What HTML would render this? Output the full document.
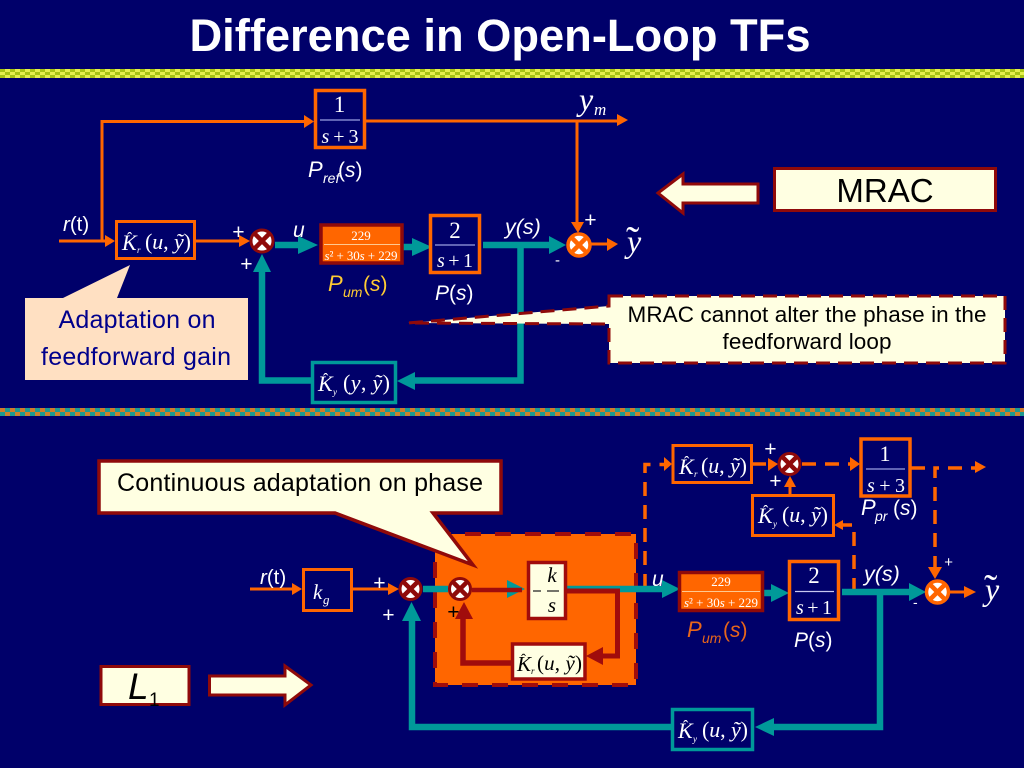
<!DOCTYPE html>
<html><head><meta charset="utf-8"><style>
html,body{margin:0;padding:0;background:#00006a}
svg{display:block}
text{font-family:"Liberation Sans",sans-serif;fill:#fff}
.m{font-family:"Liberation Serif",serif}
.i{font-style:italic}
.n{font-style:normal}
</style></head><body>
<svg width="1024" height="768" viewBox="0 0 1024 768" xmlns="http://www.w3.org/2000/svg">
<defs>
<pattern id="b1" width="10" height="9" patternUnits="userSpaceOnUse" y="69"><rect width="10" height="9" fill="#e4f04c"/><rect x="0" y="0" width="5" height="3" fill="#a6c414"/><rect x="5" y="3" width="5" height="3" fill="#a6c414"/><rect x="0" y="6" width="5" height="3" fill="#a6c414"/></pattern>
<pattern id="b2" width="10" height="8" patternUnits="userSpaceOnUse" y="408"><rect width="10" height="8" fill="#1d9a90"/><rect x="0" y="0" width="5" height="4" fill="#d07a2a"/><rect x="5" y="4" width="5" height="4" fill="#c9822e"/></pattern>
</defs>
<rect width="1024" height="768" fill="#00006a"/>
<text x="500" y="51" font-size="45" font-weight="bold" text-anchor="middle" textLength="621" lengthAdjust="spacingAndGlyphs">Difference in Open-Loop TFs</text>
<rect x="0" y="69" width="1024" height="9" fill="url(#b1)"/>
<rect x="0" y="408" width="1024" height="8" fill="url(#b2)"/>

<!-- TOP: orange wires -->
<g stroke="#ff6600" stroke-width="3" fill="none">
<path d="M59 241H112M102 241V121.500H306"/>
<path d="M365 121H620"/>
<path d="M577 121V226"/>
<path d="M195 241H240"/>
<path d="M591 244H610"/>
</g>
<g fill="#ff6600">
<polygon points="115,241 105,235 105,247"/>
<polygon points="314,121.500 304,115 304,128"/>
<polygon points="628,120 617,114 617,126"/>
<polygon points="578,233 571,222 584,222"/>
<polygon points="250,241 239,235 239,247"/>
<polygon points="618,244 607,238 607,251"/>
</g>
<!-- TOP: teal wires -->
<g stroke="#009999" stroke-width="6.500" fill="none">
<path d="M275 245H300"/>
<path d="M403 247H416"/>
<path d="M483 245H550"/>
<path d="M520.500 245V380.500H412"/>
<path d="M312 380.500H262V270"/>
</g>
<g fill="#009999">
<polygon points="318,245 298,236 298,254"/>
<polygon points="432,247 412,238 412,256"/>
<polygon points="566,245 549,236 549,254"/>
<polygon points="397,381 415,372 415,390"/>
<polygon points="262,254 253,272 271,272"/>
</g>
<!-- TOP boxes -->
<rect x="315.500" y="90.500" width="49" height="57" fill="#00006a" stroke="#ff6600" stroke-width="3.500"/>
<text class="m" x="339.500" y="112" font-size="23" text-anchor="middle">1</text>
<path d="M320 120H360" stroke="#9aa0e0" stroke-width="1.200"/>
<text class="m" x="340" y="143" font-size="20" text-anchor="middle" textLength="37"><tspan class="i">s</tspan> + 3</text>

<rect x="116.500" y="221.500" width="78" height="37" fill="#00006a" stroke="#ff6600" stroke-width="3"/>
<text class="m i" x="122" y="250" font-size="22">K</text><text class="m" x="127" y="243" font-size="16">ˆ</text>
<text class="m i" x="137" y="253" font-size="9">r</text>
<text class="m" x="145" y="249" font-size="22" textLength="46">(<tspan class="i">u</tspan>, <tspan class="i">ỹ</tspan>)</text>

<rect x="321" y="225" width="81" height="38" fill="#ff6600" stroke="#8f0a0a" stroke-width="3.500"/>
<text class="m" x="361" y="240" font-size="13" text-anchor="middle">229</text>
<path d="M324 244.500H400" stroke="#ffc890" stroke-width="1"/>
<text class="m" x="361" y="260" font-size="13" text-anchor="middle" textLength="73"><tspan class="i">s</tspan>² + 30<tspan class="i">s</tspan> + 229</text>

<rect x="430.500" y="215.500" width="49" height="57" fill="#00006a" stroke="#ff6600" stroke-width="3.500"/>
<text class="m" x="455" y="238" font-size="23" text-anchor="middle">2</text>
<path d="M435 245H475" stroke="#9aa0e0" stroke-width="1.200"/>
<text class="m" x="455" y="267" font-size="20" text-anchor="middle" textLength="36"><tspan class="i">s</tspan> + 1</text>

<rect x="312.500" y="362.500" width="83" height="40" fill="#00006a" stroke="#009999" stroke-width="3.500"/>
<text class="m i" x="318" y="391" font-size="22">K</text><text class="m" x="323" y="384" font-size="16">ˆ</text>
<text class="m i" x="333" y="395" font-size="9">y</text>
<text class="m" x="343" y="390" font-size="22" textLength="47">(<tspan class="i">y</tspan>, <tspan class="i">ỹ</tspan>)</text>

<!-- TOP sums -->
<g>
<circle cx="262" cy="241" r="11" fill="#fff" stroke="#8f0a0a" stroke-width="3"/>
<path d="M254 233L270 249M270 233L254 249" stroke="#8f0a0a" stroke-width="4.500"/>
</g>
<g>
<circle cx="579" cy="245" r="11" fill="#fff" stroke="#ff6600" stroke-width="3.500"/>
<path d="M571 237L587 253M587 237L571 253" stroke="#ff6600" stroke-width="4.500"/>
</g>

<!-- TOP labels -->
<text x="308" y="177" font-size="22" class="i">P</text><text x="323" y="183" font-size="14" class="i">ref</text><text x="338" y="177" font-size="21">(<tspan class="i">s</tspan>)</text>
<text x="63" y="231" font-size="20.500"><tspan class="i">r</tspan>(t)</text>
<text x="232" y="239" font-size="21" class="i">+</text>
<text x="240" y="271" font-size="21" class="i">+</text>
<text x="293" y="237" font-size="21" class="i">u</text>
<text x="328" y="291" font-size="22" class="i" style="fill:#ffcc33">P</text><text x="343" y="297" font-size="14" class="i" style="fill:#ffcc33">um</text><text x="363" y="291" font-size="21" style="fill:#ffcc33">(<tspan class="i">s</tspan>)</text>
<text x="435" y="300" font-size="21" class="i">P<tspan class="n">(</tspan>s<tspan class="n">)</tspan></text>
<text x="505" y="234" font-size="21.500" class="i">y(s)</text>
<text x="584" y="227" font-size="21" class="i">+</text>
<text x="555" y="265" font-size="15">-</text>
<text class="m i" x="579" y="110" font-size="32">y</text>
<text class="m i" x="594" y="115" font-size="17">m</text>
<text class="m i" x="627" y="252" font-size="32">y</text>
<text class="m" x="626" y="254" font-size="40">˜</text>

<!-- TOP callouts -->
<polygon points="25,298 63,298 130,265 117,298 248,298 248,380 25,380" fill="#ffe0c2"/>
<text x="137" y="328" font-size="25" text-anchor="middle" textLength="157" style="fill:#00008c">Adaptation on</text>
<text x="136" y="365" font-size="25" text-anchor="middle" textLength="190" style="fill:#00008c">feedforward gain</text>

<rect x="774.500" y="168.500" width="221" height="42" fill="#ffffe2" stroke="#8f0a0a" stroke-width="3"/>
<text x="885" y="202" font-size="33" text-anchor="middle" style="fill:#000">MRAC</text>
<polygon points="658,193 683,174 683,184 758,184 758,203 683,203 683,213" fill="#ffffe2" stroke="#8f0a0a" stroke-width="3"/>

<polygon points="609,296 1005,296 1005,363 609,363 609,324 408,323 609,306" fill="#ffffe2" stroke="#8f0a0a" stroke-width="3" stroke-dasharray="14 8"/>
<text x="807" y="322" font-size="22.500" text-anchor="middle" textLength="359" style="fill:#000">MRAC cannot alter the phase in the</text>
<text x="807" y="349" font-size="22.500" text-anchor="middle" textLength="169" style="fill:#000">feedforward loop</text>

<!-- BOTTOM: orange block -->
<rect x="435" y="534" width="201" height="151" fill="#ff6600" stroke="#a00c0c" stroke-width="4" stroke-dasharray="16 14"/>

<!-- callout -->
<polygon points="99,461 501,461 501,513 433,513 473,565 335,513 99,513" fill="#ffffe2" stroke="#8f0a0a" stroke-width="3.500"/>
<text x="300" y="491" font-size="25" text-anchor="middle" textLength="366" style="fill:#000">Continuous adaptation on phase</text>

<!-- BOTTOM orange wires -->
<g stroke="#ff6600" stroke-width="3" fill="none">
<path d="M250 589H293"/>
<path d="M352 589H390"/>
<path d="M950 592H968"/>
<path d="M790 495V484"/>
</g>
<g fill="#ff6600">
<polygon points="302,589 292,583 292,595"/>
<polygon points="399,589 388,583 388,595"/>
<polygon points="976,592 964,586 964,598"/>
<polygon points="790,476 784,487 796,487"/>
<polygon points="935,579 928,567 942,567"/>
<polygon points="672,464 664,457 664,471"/>
<polygon points="778,464 768,458 768,471"/>
<polygon points="860,464 850,457 850,471"/>
<polygon points="986,467 975,461 975,473"/>
<polygon points="834,525 843,520 843,530"/>
</g>
<g stroke="#ff6600" stroke-width="3.500" fill="none" stroke-dasharray="14 9">
<path d="M645 588V464.500H665"/>
<path d="M752 464H768"/>
<path d="M802 464H850"/>
<path d="M911 468H925"/>
<path d="M935 570V468H976"/>
<path d="M854 592V525H842"/>
</g>

<!-- BOTTOM teal -->
<g stroke="#009999" stroke-width="6.500" fill="none">
<path d="M423 589H448"/>
<path d="M565 589H665"/>
<path d="M764 593H776"/>
<path d="M842 592H912"/>
<path d="M880 592V727H772"/>
<path d="M672 727H412V618"/>
</g>
<g fill="#009999">
<polygon points="680,589 662,580 662,598"/>
<polygon points="789,593 771,584 771,602"/>
<polygon points="926,592 909,583 909,601"/>
<polygon points="755,727 774,718 774,736"/>
<polygon points="411.500,602 402,621 421,621"/>
<polygon points="525,589 507,580 507,598"/>
</g>
<!-- BOTTOM dark-red inner loop -->
<g stroke="#a00c0c" stroke-width="4.500" fill="none">
<path d="M472 590H522"/>
<path d="M565 591H617.500V656H600" stroke-width="5"/>
<path d="M511 663H463V617" stroke-width="5.500"/>
</g>
<g fill="#a00c0c">
<polygon points="586,656 603,647 603,665"/>
<polygon points="464,602 455,619 473,619"/>
</g>

<!-- BOTTOM boxes -->
<rect x="303.500" y="569.500" width="48" height="41" fill="#00006a" stroke="#ff6600" stroke-width="3"/>
<text class="m i" x="313" y="599" font-size="21">k</text><text class="m i" x="323" y="604" font-size="13">g</text>

<rect x="528.500" y="562.500" width="37" height="56" fill="#ffffe2" stroke="#a00c0c" stroke-width="3.500"/>
<path d="M533 591H541M547 591H559" stroke="#222" stroke-width="1.200"/>
<text class="m i" x="552" y="582" font-size="21" text-anchor="middle" style="fill:#000">k</text>
<text class="m i" x="552" y="612" font-size="21" text-anchor="middle" style="fill:#000">s</text>

<rect x="512.500" y="644" width="72.500" height="35" fill="#ffffe2" stroke="#a00c0c" stroke-width="3.500"/>
<text class="m i" x="517" y="671" font-size="21" style="fill:#000">K</text><text class="m" x="521" y="664" font-size="15" style="fill:#000">ˆ</text>
<text class="m i" x="531" y="674" font-size="9" style="fill:#000">r</text>
<text class="m" x="537" y="670" font-size="21" textLength="45" style="fill:#000">(<tspan class="i">u</tspan>, <tspan class="i">ỹ</tspan>)</text>

<rect x="679.500" y="572.500" width="83" height="38" fill="#ff6600" stroke="#8f0a0a" stroke-width="3.500"/>
<text class="m" x="721" y="586" font-size="13" text-anchor="middle">229</text>
<path d="M682 591.500H760" stroke="#ffc890" stroke-width="1"/>
<text class="m" x="721" y="607" font-size="13" text-anchor="middle" textLength="74"><tspan class="i">s</tspan>² + 30<tspan class="i">s</tspan> + 229</text>

<rect x="789.500" y="561.500" width="49" height="58" fill="#00006a" stroke="#ff6600" stroke-width="3.500"/>
<text class="m" x="814" y="583" font-size="23" text-anchor="middle">2</text>
<path d="M795 591.500H834" stroke="#c8c8f0" stroke-width="1.200"/>
<text class="m" x="814" y="614" font-size="20" text-anchor="middle" textLength="36"><tspan class="i">s</tspan> + 1</text>

<rect x="673" y="445.500" width="78.500" height="37" fill="#00006a" stroke="#ff6600" stroke-width="3"/>
<text class="m i" x="679" y="474" font-size="22">K</text><text class="m" x="684" y="467" font-size="16">ˆ</text>
<text class="m i" x="694" y="477" font-size="9">r</text>
<text class="m" x="701" y="473" font-size="22" textLength="46">(<tspan class="i">u</tspan>, <tspan class="i">ỹ</tspan>)</text>

<rect x="861" y="439" width="49" height="57" fill="#00006a" stroke="#ff6600" stroke-width="3.500"/>
<text class="m" x="885" y="461" font-size="22" text-anchor="middle">1</text>
<path d="M866 469H905" stroke="#9aa0e0" stroke-width="1.200"/>
<text class="m" x="886" y="492" font-size="20" text-anchor="middle" textLength="38"><tspan class="i">s</tspan> + 3</text>

<rect x="752.500" y="495.500" width="81" height="40" fill="#00006a" stroke="#ff6600" stroke-width="3"/>
<text class="m i" x="758" y="523" font-size="22">K</text><text class="m" x="763" y="516" font-size="16">ˆ</text>
<text class="m i" x="773" y="527" font-size="9">y</text>
<text class="m" x="782" y="522" font-size="22" textLength="46">(<tspan class="i">u</tspan>, <tspan class="i">ỹ</tspan>)</text>

<rect x="672.500" y="709.500" width="80" height="40" fill="#00006a" stroke="#009999" stroke-width="3.500"/>
<text class="m i" x="678" y="738" font-size="22">K</text><text class="m" x="683" y="731" font-size="16">ˆ</text>
<text class="m i" x="693" y="742" font-size="9">y</text>
<text class="m" x="702" y="737" font-size="22" textLength="46">(<tspan class="i">u</tspan>, <tspan class="i">ỹ</tspan>)</text>

<!-- BOTTOM sums -->
<g>
<circle cx="410.500" cy="589" r="10.500" fill="#fff" stroke="#8f0a0a" stroke-width="3"/>
<path d="M403 581.500L418 596.500M418 581.500L403 596.500" stroke="#8f0a0a" stroke-width="4.500"/>
</g>
<g>
<circle cx="460" cy="589" r="10.500" fill="#fff" stroke="#8f0a0a" stroke-width="3"/>
<path d="M452.500 581.500L467.500 596.500M467.500 581.500L452.500 596.500" stroke="#8f0a0a" stroke-width="4.500"/>
</g>
<g>
<circle cx="789.500" cy="464" r="10.500" fill="#fff" stroke="#8f0a0a" stroke-width="3"/>
<path d="M782 456.500L797 471.500M797 456.500L782 471.500" stroke="#8f0a0a" stroke-width="4.500"/>
</g>
<g>
<circle cx="937.500" cy="592" r="11" fill="#fff" stroke="#ff6600" stroke-width="3.500"/>
<path d="M929.500 584L945.500 600M945.500 584L929.500 600" stroke="#ff6600" stroke-width="4.500"/>
</g>

<!-- BOTTOM labels -->
<text x="260" y="584" font-size="20.500"><tspan class="i">r</tspan>(t)</text>
<text x="373" y="590" font-size="21" class="i">+</text>
<text x="382" y="622" font-size="21" class="i">+</text>
<text x="447" y="619" font-size="21" class="i" style="fill:#000">+</text>
<text x="652" y="586" font-size="21" class="i">u</text>
<text x="687" y="637" font-size="22" class="i" style="fill:#e8661a">P</text><text x="702" y="643" font-size="14" class="i" style="fill:#e8661a">um</text><text x="723" y="637" font-size="21" style="fill:#e8661a">(<tspan class="i">s</tspan>)</text>
<text x="794" y="647" font-size="21" class="i">P<tspan class="n">(</tspan>s<tspan class="n">)</tspan></text>
<text x="864" y="581" font-size="21.500" class="i">y(s)</text>
<text x="944" y="567" font-size="15" class="i">+</text>
<text x="913" y="607" font-size="14">-</text>
<text x="764" y="456" font-size="21" class="i">+</text>
<text x="769" y="488" font-size="21" class="i">+</text>
<text x="861" y="515" font-size="22" class="i">P</text><text x="875" y="521" font-size="14" class="i">pr</text><text x="893" y="515" font-size="21"> (<tspan class="i">s</tspan>)</text>
<text class="m i" x="985" y="600" font-size="32">y</text>
<text class="m" x="984" y="602" font-size="40">˜</text>

<!-- L1 -->
<rect x="101" y="666.500" width="88" height="38" fill="#ffffe2" stroke="#8f0a0a" stroke-width="3"/>
<text x="128" y="699" font-size="37" class="i" style="fill:#000">L</text>
<text x="149" y="706" font-size="19" style="fill:#000">1</text>
<polygon points="209.500,676 285,676 285,666 311,685 285,705 285,695 209.500,695" fill="#ffffe2" stroke="#8f0a0a" stroke-width="3"/>
</svg>
</body></html>
